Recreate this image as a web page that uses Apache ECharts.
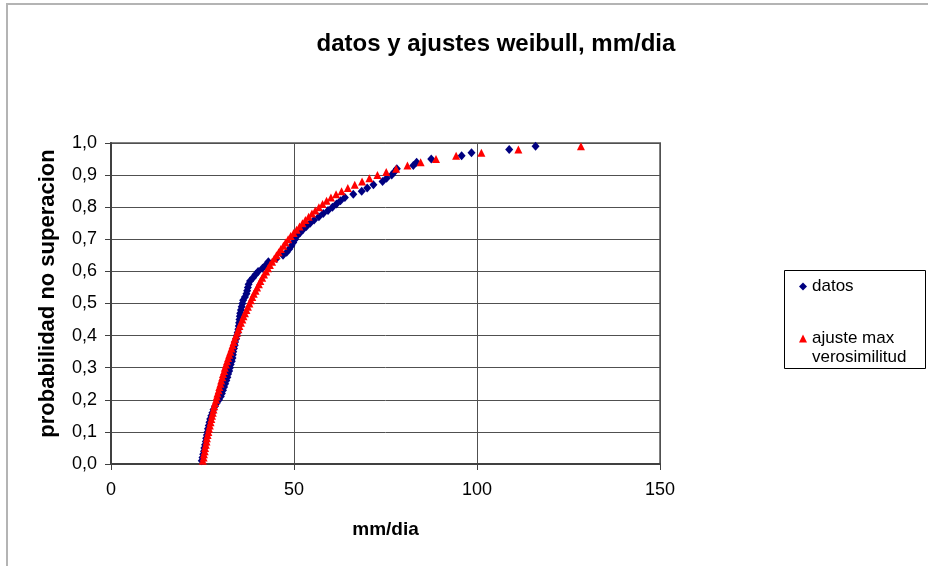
<!DOCTYPE html>
<html>
<head>
<meta charset="utf-8">
<script src="https://cdn.jsdelivr.net/npm/echarts@6/dist/echarts.min.js"></script>
<style>
  html, body { margin: 0; padding: 0; background: #fff; }
  #chart { width: 928px; height: 566px; }
</style>
</head>
<body>
<div id="chart"></div>
<script>
// Non-exceedance probability (plotting position) shared by both series
const probabilidad = [
  0.01, 0.02, 0.03, 0.04, 0.05, 0.06, 0.07, 0.08, 0.09, 0.10,
  0.11, 0.12, 0.13, 0.14, 0.15, 0.16, 0.17, 0.18, 0.19, 0.20,
  0.21, 0.22, 0.23, 0.24, 0.25, 0.26, 0.27, 0.28, 0.29, 0.30,
  0.31, 0.32, 0.33, 0.34, 0.35, 0.36, 0.37, 0.38, 0.39, 0.40,
  0.41, 0.42, 0.43, 0.44, 0.45, 0.46, 0.47, 0.48, 0.49, 0.50,
  0.51, 0.52, 0.53, 0.54, 0.55, 0.56, 0.57, 0.58, 0.59, 0.60,
  0.61, 0.62, 0.63, 0.64, 0.65, 0.66, 0.67, 0.68, 0.69, 0.70,
  0.71, 0.72, 0.73, 0.74, 0.75, 0.76, 0.77, 0.78, 0.79, 0.80,
  0.81, 0.82, 0.83, 0.84, 0.85, 0.86, 0.87, 0.88, 0.89, 0.90,
  0.91, 0.92, 0.93, 0.94, 0.95, 0.96, 0.97, 0.98, 0.99
];

// Observed daily maxima, mm/dia (sorted)
const datosMm = [
  24.8, 25.0, 25.2, 25.4, 25.5, 25.7, 25.9, 26.0, 26.2, 26.4,
  26.5, 26.7, 26.9, 27.1, 27.4, 27.7, 28.0, 28.4, 28.9, 29.5,
  30.0, 30.3, 30.6, 30.9, 31.2, 31.5, 31.8, 32.0, 32.3, 32.5,
  32.7, 33.0, 33.2, 33.3, 33.4, 33.6, 33.8, 33.9, 34.2, 34.4,
  34.6, 34.8, 34.9, 35.0, 35.1, 35.2, 35.3, 35.5, 35.7, 35.9,
  36.1, 36.6, 37.0, 37.2, 37.4, 37.6, 38.0, 38.8, 39.5, 40.2,
  41.4, 42.3, 43.0, 45.2, 47.0, 48.0, 48.7, 49.3, 49.8, 50.3,
  50.8, 51.6, 52.4, 53.4, 54.4, 55.5, 56.8, 58.0, 59.3, 60.5,
  61.6, 62.7, 63.9, 66.2, 68.5, 70.0, 71.7, 74.2, 75.3, 76.7,
  77.4, 78.1, 82.6, 83.5, 87.5, 95.8, 98.5, 108.8, 116.0
];

// Maximum-likelihood Weibull quantiles at the same probabilities, mm/dia
const ajusteMm = [
  25.1, 25.3, 25.4, 25.6, 25.7, 25.9, 26.1, 26.2, 26.4, 26.6,
  26.8, 27.0, 27.2, 27.4, 27.6, 27.8, 28.0, 28.2, 28.4, 28.7,
  28.9, 29.1, 29.4, 29.6, 29.9, 30.1, 30.4, 30.6, 30.9, 31.1,
  31.4, 31.7, 32.0, 32.3, 32.6, 32.9, 33.2, 33.5, 33.8, 34.1,
  34.5, 34.8, 35.1, 35.5, 35.9, 36.2, 36.6, 37.0, 37.4, 37.8,
  38.2, 38.6, 39.0, 39.5, 39.9, 40.4, 40.8, 41.3, 41.8, 42.4,
  42.9, 43.4, 44.0, 44.6, 45.2, 45.8, 46.4, 47.1, 47.7, 48.4,
  49.1, 49.9, 50.7, 51.5, 52.3, 53.1, 54.0, 54.9, 55.8, 56.8,
  57.8, 58.9, 60.1, 61.5, 63.0, 64.7, 66.6, 68.6, 70.6, 72.8,
  75.2, 77.9, 81.0, 84.6, 88.8, 94.3, 101.2, 111.3, 128.4
];

const xTicks = [0, 50, 100, 150];
const yTicks = [0, 0.1, 0.2, 0.3, 0.4, 0.5, 0.6, 0.7, 0.8, 0.9, 1.0];

const FONT = 'Liberation Sans, Arial, sans-serif';

const pairs = (xs, ys) => xs.map((x, i) => [x, ys[i]]);

const chart = echarts.init(document.getElementById('chart'), null, { renderer: 'canvas' });

chart.setOption({
  animation: false,
  backgroundColor: '#ffffff',
  title: {
    text: 'datos y ajustes weibull, mm/dia',
    left: 491,
    top: 27,
    textAlign: 'center',
    textStyle: { fontFamily: FONT, fontSize: 24, fontWeight: 'bold', color: '#000' }
  },
  grid: {
    left: 111, top: 143, width: 549, height: 321,
    show: true, borderColor: '#808080', borderWidth: 2, backgroundColor: '#ffffff'
  },
  xAxis: {
    type: 'value',
    min: xTicks[0], max: xTicks[xTicks.length - 1], interval: 50,
    name: 'mm/dia',
    nameLocation: 'middle',
    nameGap: 56,
    nameTextStyle: { fontFamily: FONT, fontSize: 19, fontWeight: 'bold', color: '#000' },
    axisLine: { show: true, lineStyle: { color: '#404040', width: 2 } },
    axisTick: { show: true, inside: false, length: 6, lineStyle: { color: '#404040', width: 1 } },
    axisLabel: { margin: 17, fontFamily: FONT, fontSize: 18, color: '#000' },
    splitLine: { show: true, lineStyle: { color: '#505050', width: 1 } }
  },
  yAxis: {
    type: 'value',
    min: yTicks[0], max: yTicks[yTicks.length - 1], interval: 0.1,
    name: 'probabilidad no superacion',
    nameLocation: 'middle',
    nameGap: 52,
    nameTextStyle: {
      fontFamily: FONT, fontSize: 22, fontWeight: 'bold', color: '#000',
      padding: [0, 0, 0, 20]
    },
    axisLine: { show: true, lineStyle: { color: '#404040', width: 2 } },
    axisTick: { show: true, inside: false, length: 6, lineStyle: { color: '#404040', width: 1 } },
    axisLabel: {
      margin: 14, fontFamily: FONT, fontSize: 18, color: '#000',
      formatter: v => v.toFixed(1).replace('.', ',')
    },
    splitLine: { show: true, lineStyle: { color: '#505050', width: 1 } }
  },
  legend: {
    orient: 'vertical',
    left: 799,
    top: 277,
    itemWidth: 8,
    itemHeight: 8,
    itemGap: 14,
    padding: 0,
    textStyle: { fontFamily: FONT, fontSize: 17, color: '#000', lineHeight: 19 },
    // the long entry wraps; a blank first line keeps the marker beside "ajuste max"
    formatter: name => name === 'ajuste max verosimilitud' ? '\najuste max\nverosimilitud' : name,
    data: ['datos', 'ajuste max verosimilitud']
  },
  graphic: [
    {
      type: 'polyline',
      silent: true,
      shape: { points: [[928, 4], [7, 4], [7, 566]] },
      style: { stroke: '#b4b4b4', lineWidth: 2, fill: null }
    },
    {
      type: 'rect',
      silent: true,
      shape: { x: 784.5, y: 270.5, width: 141, height: 98 },
      style: { stroke: '#000', lineWidth: 1, fill: null }
    }
  ],
  series: [
    {
      name: 'datos',
      type: 'scatter',
      symbol: 'diamond',
      symbolSize: [8, 9],
      itemStyle: { color: '#000080', opacity: 1 },
      data: pairs(datosMm, probabilidad),
      z: 2
    },
    {
      name: 'ajuste max verosimilitud',
      type: 'scatter',
      symbol: 'triangle',
      symbolSize: [8, 8],
      itemStyle: { color: '#ff0000', opacity: 1 },
      data: pairs(ajusteMm, probabilidad),
      z: 3
    }
  ]
});
</script>
</body>
</html>
